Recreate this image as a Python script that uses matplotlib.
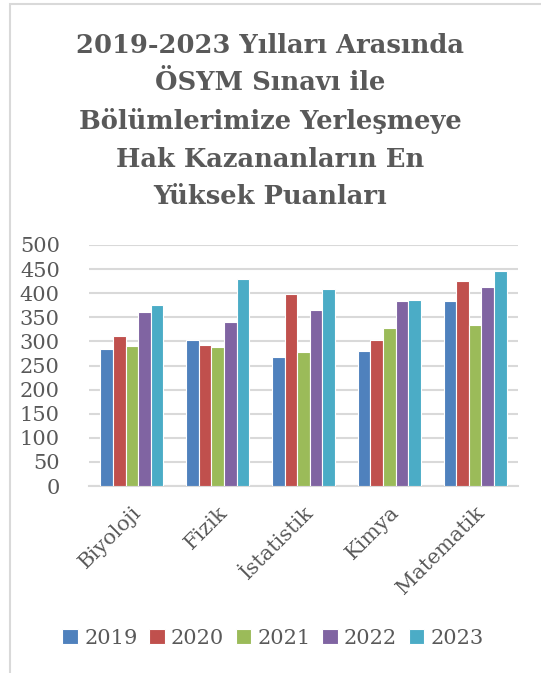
import numpy as np
import matplotlib.pyplot as plt
from matplotlib.patches import Rectangle

# values
bolumler = ['Biyoloji', 'Fizik', 'İstatistik', 'Kimya', 'Matematik']
yillar = ['2019', '2020', '2021', '2022', '2023']
p2019 = [284, 302, 267, 281, 383]
p2020 = [311, 292, 399, 302, 425]
p2021 = [291, 288, 279, 328, 333]
p2022 = [362, 340, 365, 384, 412]
p2023 = [375, 430, 408, 386, 447]
renkler = ['#4f81bd', '#c0504d', '#9bbb59', '#8064a2', '#4bacc6']

baslik = ('2019-2023 Yılları Arasında\nÖSYM Sınavı ile\n'
          'Bölümlerimize Yerleşmeye\nHak Kazananların En\nYüksek Puanları')

plt.rcParams['font.family'] = ['DejaVu Serif']
gri = '#595959'

fig = plt.figure(figsize=(5.41, 6.73), dpi=100)
fig.patches.append(Rectangle((10/541, -0.01), 1.0, 1 - 4/673 + 0.01,
                             transform=fig.transFigure, fill=False,
                             edgecolor='#d9d9d9', linewidth=1.5))

ax = fig.add_axes([89/541, 1 - 486/673, 429/541, 241/673])

x = np.arange(len(bolumler))
seriler = [p2019, p2020, p2021, p2022, p2023]
w = 0.147
for i, (s, c, yil) in enumerate(zip(seriler, renkler, yillar)):
    ax.bar(x + (i - 2) * w, s, w, color=c, edgecolor='white',
           linewidth=0.8, label=yil, zorder=3)

ax.set_xlim(-0.5, len(bolumler) - 0.5)
ax.set_ylim(0, 500)
ax.set_yticks(range(0, 501, 50))
ax.yaxis.grid(True, color='#d9d9d9', linewidth=1.5, zorder=0)
for sp in ['top', 'right', 'left']:
    ax.spines[sp].set_visible(False)
ax.spines['bottom'].set_color('#d9d9d9')
ax.spines['bottom'].set_linewidth(1.5)
ax.tick_params(length=0, colors=gri, labelsize=15)
ax.tick_params(axis='y', pad=21)
ax.tick_params(axis='x', pad=12)
ax.set_xticks(x)
ax.set_xticklabels(bolumler, rotation=45, ha='right', rotation_mode='anchor',
                   fontsize=15, color=gri)

fig.text(0.5, 1 - 33/673, baslik, ha='center', va='top', fontsize=18.5,
         fontweight='bold', color=gri, linespacing=1.62)

ax.legend(loc='center', bbox_to_anchor=(273/541, 1 - 638/673),
          bbox_transform=fig.transFigure, ncol=5, frameon=False,
          fontsize=15, handlelength=0.75, handleheight=0.75,
          handletextpad=0.3, columnspacing=0.55, labelcolor=gri)

fig.savefig('out.png', dpi=100)
